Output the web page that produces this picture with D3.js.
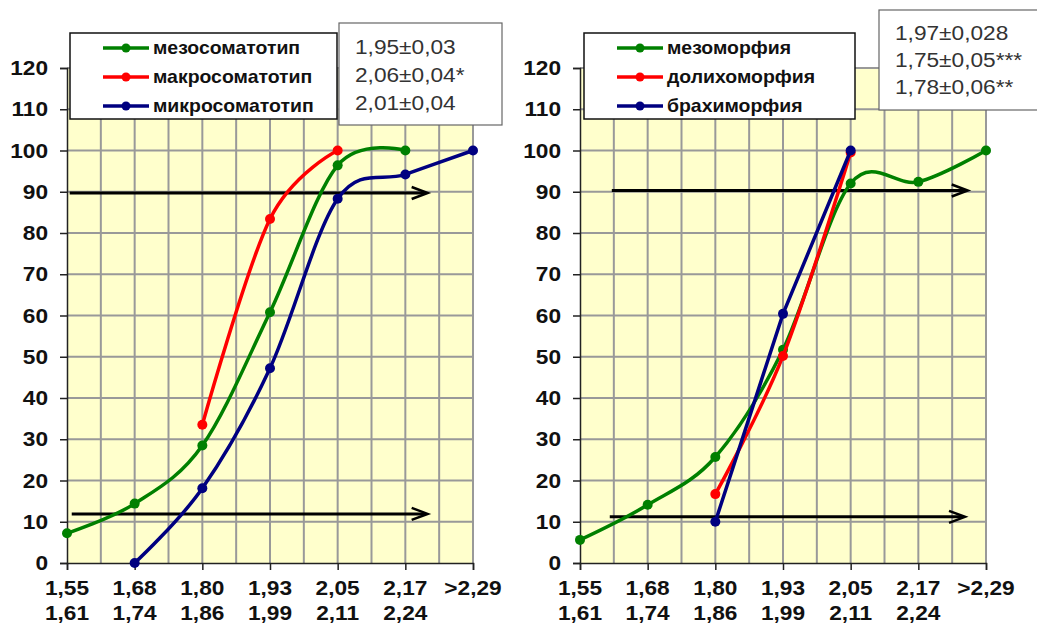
<!DOCTYPE html>
<html>
<head>
<meta charset="utf-8">
<script src="https://cdn.jsdelivr.net/npm/d3@7"></script>
<style>
  body { margin: 0; background: #fff; }
  svg { display: block; font-family: "Liberation Sans", Arial, sans-serif; }
</style>
</head>
<body>
<svg id="chart" width="1037" height="626"></svg>
<script>
// Category ticks (two-line labels)
const xLabelsTop = ['1,55', '1,68', '1,80', '1,93', '2,05', '2,17', '>2,29'];
const xLabelsBottom = ['1,61', '1,74', '1,86', '1,99', '2,11', '2,24', ''];
const yTicks = [0, 10, 20, 30, 40, 50, 60, 70, 80, 90, 100, 110, 120];

// Left panel: somatotype
const mesoSomato = [7.2, 14.4, 28.5, 60.8, 96.4, 100, null];
const macroSomato = [null, null, 33.5, 83.4, 100, null, null];
const microSomato = [null, 0, 18.1, 47.2, 88.3, 94.2, 100];
const leftNames = ['мезосоматотип', 'макросоматотип', 'микросоматотип'];
const leftStats = ['1,95±0,03', '2,06±0,04*', '2,01±0,04'];
const leftArrows = [89.7, 11.9];

// Right panel: morphotype
const mesoMorph = [5.6, 14.1, 25.7, 51.7, 92, 92.4, 100];
const dolichoMorph = [null, null, 16.7, 50.2, 99.5, null, null];
const brachyMorph = [null, null, 10, 60.4, 100, null, null];
const rightNames = ['мезоморфия', 'долихоморфия', 'брахиморфия'];
const rightStats = ['1,97±0,028', '1,75±0,05***', '1,78±0,06**'];
const rightArrows = [90.3, 11.2];

const colors = ['#008000', '#ff0000', '#000080'];

const svg = d3.select('#chart');

// the source picture is slightly stretched sideways, so text is widened a bit
function wide(sel, cx, cy) {
    sel.attr('transform', `translate(${cx},${cy}) scale(1.08,1) translate(${-cx},${-cy})`);
}

function drawPanel(cfg) {
    const x = d3.scaleLinear().domain([0, 6]).range([cfg.left, cfg.left + 406]);
    const y = d3.scaleLinear().domain([0, 120]).range([563, 68]);
    const g = svg.append('g');

    // plot background
    g.append('rect')
        .attr('x', x(0)).attr('y', y(120))
        .attr('width', x(6) - x(0)).attr('height', y(0) - y(120))
        .attr('fill', '#ffffcc');

    // grid: vertical every half category, horizontal every 10
    g.selectAll('.vgrid')
        .data(d3.range(1, 13).map(d => d / 2))
        .enter().append('line')
        .attr('x1', d => x(d)).attr('x2', d => x(d))
        .attr('y1', y(0)).attr('y2', y(120))
        .attr('stroke', '#999').attr('stroke-width', 2);
    g.selectAll('.hgrid')
        .data(yTicks.slice(1))
        .enter().append('line')
        .attr('x1', x(0)).attr('x2', x(6))
        .attr('y1', d => y(d)).attr('y2', d => y(d))
        .attr('stroke', '#999').attr('stroke-width', 2);

    // axes
    const yAxis = g.append('g')
        .attr('transform', `translate(${x(0)},0)`)
        .call(d3.axisLeft(y).tickValues(yTicks).tickSize(7).tickPadding(12));
    const xAxis = g.append('g')
        .attr('transform', `translate(0,${y(0)})`)
        .call(d3.axisBottom(x).tickValues(d3.range(0, 7)).tickSize(7).tickFormat(''));
    [yAxis, xAxis].forEach(a => {
        a.select('.domain').attr('stroke', '#222').attr('stroke-width', 1.5);
        a.selectAll('.tick line').attr('stroke', '#222').attr('stroke-width', 1.5);
    });
    yAxis.selectAll('.tick text')
        .attr('font-size', 21).attr('font-weight', 'bold').attr('fill', '#111')
        .attr('font-family', '"Liberation Sans", Arial, sans-serif')
        .each(function () { wide(d3.select(this), -19, 0); });

    g.selectAll('.xl1')
        .data(xLabelsTop)
        .enter().append('text')
        .attr('x', (d, i) => x(i)).attr('y', 595)
        .attr('text-anchor', 'middle')
        .attr('font-size', 21).attr('font-weight', 'bold').attr('fill', '#111')
        .text(d => d)
        .each(function (d, i) { wide(d3.select(this), x(i), 595); });
    g.selectAll('.xl2')
        .data(xLabelsBottom)
        .enter().append('text')
        .attr('x', (d, i) => x(i)).attr('y', 620)
        .attr('text-anchor', 'middle')
        .attr('font-size', 21).attr('font-weight', 'bold').attr('fill', '#111')
        .text(d => d)
        .each(function (d, i) { wide(d3.select(this), x(i), 620); });

    // arrows
    cfg.arrows.forEach((v, i) => {
        const x1 = x(cfg.arrowFrom[i]), x2 = x(cfg.arrowTo[i]);
        g.append('line')
            .attr('x1', x1).attr('x2', x2 - 2)
            .attr('y1', y(v)).attr('y2', y(v))
            .attr('stroke', '#000').attr('stroke-width', 3);
        g.append('path')
            .attr('d', `M${x2 - 16},${y(v) - 6} L${x2},${y(v)} L${x2 - 16},${y(v) + 6}`)
            .attr('fill', 'none').attr('stroke', '#000').attr('stroke-width', 2.5);
    });

    // series
    cfg.series.forEach((values, si) => {
        const pts = values.map((v, i) => ({ i, v })).filter(d => d.v !== null);
        const line = d3.line()
            .x(d => x(d.i)).y(d => y(d.v))
            .curve(cfg.smooth[si] ? d3.curveCardinal.tension(0) : d3.curveLinear);
        g.append('path')
            .datum(pts)
            .attr('d', line)
            .attr('fill', 'none')
            .attr('stroke', colors[si])
            .attr('stroke-width', 3.5);
        g.selectAll(`.dot${si}`)
            .data(pts)
            .enter().append('circle')
            .attr('cx', d => x(d.i)).attr('cy', d => y(d.v))
            .attr('r', 5)
            .attr('fill', colors[si]);
    });

    // legend
    const lg = g.append('g');
    lg.append('rect')
        .attr('x', cfg.legend[0]).attr('y', 33)
        .attr('width', cfg.legend[1]).attr('height', 86)
        .attr('fill', '#fff').attr('stroke', '#111').attr('stroke-width', 1.5);
    cfg.names.forEach((name, i) => {
        const ly = 48 + i * 29;
        const lx = cfg.legend[0] + 33;
        lg.append('line')
            .attr('x1', lx).attr('x2', lx + 46)
            .attr('y1', ly).attr('y2', ly)
            .attr('stroke', colors[i]).attr('stroke-width', 3.5);
        lg.append('circle')
            .attr('cx', lx + 23).attr('cy', ly).attr('r', 4.5)
            .attr('fill', colors[i]);
        const t = lg.append('text')
            .attr('x', lx + 50).attr('y', ly + 6)
            .attr('font-size', 18).attr('font-weight', 'bold').attr('fill', '#111')
            .text(name);
        wide(t, lx + 50, ly + 6);
    });

    // statistics box
    const sb = cfg.statsBox;
    g.append('rect')
        .attr('x', sb[0]).attr('y', sb[1])
        .attr('width', sb[2]).attr('height', sb[3])
        .attr('fill', '#fff').attr('stroke', '#666').attr('stroke-width', 1.2);
    cfg.stats.forEach((s, i) => {
        const t = g.append('text')
            .attr('x', sb[0] + 16).attr('y', sb[4] + i * sb[5])
            .attr('font-size', 21).attr('fill', '#333')
            .text(s);
        wide(t, sb[0] + 16, sb[4] + i * sb[5]);
    });
}

drawPanel({
    left: 67,
    series: [mesoSomato, macroSomato, microSomato],
    smooth: [true, true, true],
    names: leftNames,
    stats: leftStats,
    arrows: leftArrows,
    arrowFrom: [0.04, 0.07],
    arrowTo: [5.33, 5.33],
    legend: [70, 267],
    statsBox: [339, 23, 163, 102, 54, 28]
});

drawPanel({
    left: 580,
    series: [mesoMorph, dolichoMorph, brachyMorph],
    smooth: [true, true, false],
    names: rightNames,
    stats: rightStats,
    arrows: rightArrows,
    arrowFrom: [0.47, 0.44],
    arrowTo: [5.73, 5.69],
    legend: [584, 271],
    statsBox: [879, 10, 170, 100, 40, 27]
});
</script>
</body>
</html>
